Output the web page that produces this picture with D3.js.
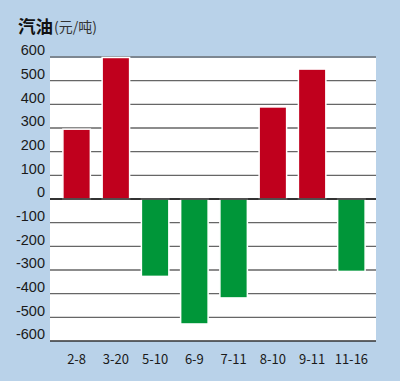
<!DOCTYPE html>
<html>
<head>
<meta charset="utf-8">
<script src="https://cdn.jsdelivr.net/npm/d3@7"></script>
<style>
body { margin: 0; background: #b9d2e9; }
svg { display: block; }
</style>
</head>
<body>
<script>
var width = 400;
var height = 381;

// data
var dates = ["2-8", "3-20", "5-10", "6-9", "7-11", "8-10", "9-11", "11-16"];
var changes = [295, 598, -327, -528, -418, 389, 549, -306];
var yTicks = [600, 500, 400, 300, 200, 100, 0, -100, -200, -300, -400, -500, -600];

var plot = {left: 50, right: 376, top: 57, bottom: 341};

var svg = d3.select("body").append("svg")
	.attr("width", width)
	.attr("height", height);

svg.append("rect")
	.attr("width", width)
	.attr("height", height)
	.attr("fill", "#b9d2e9");

//white plot area
svg.append("rect")
	.attr("x", plot.left)
	.attr("y", plot.top)
	.attr("width", plot.right - plot.left)
	.attr("height", plot.bottom - plot.top)
	.attr("fill", "#ffffff");

var x = d3.scaleBand()
	.domain(dates)
	.range([57, 371])
	.paddingInner(0.3)
	.paddingOuter(0.15);

var y = d3.scaleLinear()
	.domain([-600, 600])
	.range([plot.bottom, plot.top]);

//gridlines
svg.append("g")
	.selectAll("line")
	.data(yTicks)
	.enter().append("line")
	.attr("x1", plot.left)
	.attr("x2", plot.right)
	.attr("y1", function(d) { return y(d); })
	.attr("y2", function(d) { return y(d); })
	.attr("stroke", function(d) {
		if (d == 0 || d == -600) return "#333";
		if (d == 600) return "#7d8791";
		return "#666";
	})
	.attr("stroke-width", function(d) { return d == 600 ? 2 : 1.3; });

//y labels
svg.append("g")
	.selectAll("text")
	.data(yTicks)
	.enter().append("text")
	.attr("x", 45)
	.attr("y", function(d) { return y(d) - 7; })
	.attr("dy", "0.36em")
	.attr("text-anchor", "end")
	.style("font-family", "'Liberation Sans', Arial, sans-serif")
	.style("font-size", "14.5px")
	.style("fill", "#1a1a1a")
	.text(function(d) { return d; });

//bars
svg.append("g")
	.selectAll("rect")
	.data(changes)
	.enter().append("rect")
	.attr("x", function(d, i) { return x(dates[i]); })
	.attr("width", x.bandwidth())
	.attr("y", function(d) { return y(Math.max(0, d)); })
	.attr("height", function(d) { return Math.abs(y(d) - y(0)); })
	.attr("fill", function(d) { return d > 0 ? "#c0001d" : "#009639"; })
	.attr("stroke", "#ffffff")
	.attr("stroke-width", 1.5);

//zero line on top
svg.append("line")
	.attr("x1", plot.left)
	.attr("x2", plot.right)
	.attr("y1", y(0))
	.attr("y2", y(0))
	.attr("stroke", "#222")
	.attr("stroke-width", 1.3);

//x labels
svg.append("g")
	.selectAll("text")
	.data(dates)
	.enter().append("text")
	.attr("x", function(d) { return x(d) + x.bandwidth() / 2; })
	.attr("y", 364)
	.attr("text-anchor", "middle")
	.style("font-family", "'Noto Sans CJK JP', sans-serif")
	.style("font-size", "13px")
	.style("fill", "#1a1a1a")
	.text(function(d) { return d; });

//title
svg.append("text")
	.attr("x", 18)
	.attr("y", 33)
	.style("font-family", "'Noto Sans CJK SC', sans-serif")
	.style("font-size", "17.5px")
	.style("font-weight", "bold")
	.style("fill", "#111")
	.text("汽油");

svg.append("text")
	.attr("x", 54)
	.attr("y", 32)
	.style("font-family", "'Noto Sans CJK SC', sans-serif")
	.style("font-size", "14px")
	.style("fill", "#333")
	.text("(元/吨)");
</script>
</body>
</html>
